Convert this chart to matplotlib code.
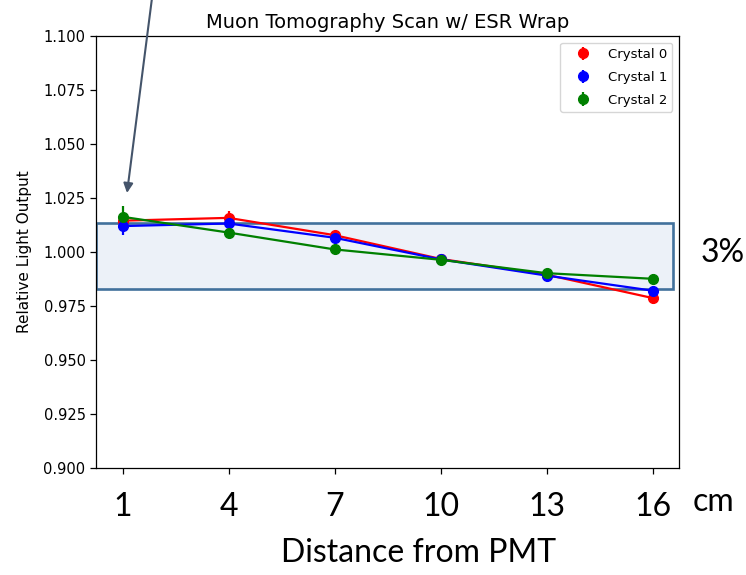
#!/usr/bin/env python3
"""Muon tomography scan, relative light output vs distance from PMT."""

import matplotlib
matplotlib.use("Agg")
import matplotlib.pyplot as plt
from matplotlib.patches import Rectangle

# ---------------------------------------------------------------------------
# Data
# ---------------------------------------------------------------------------
distance_cm = [1, 4, 7, 10, 13, 16]

crystal0 = [1.0145, 1.0158, 1.0078, 0.9968, 0.9895, 0.9787]
crystal0_err = [0.002, 0.003, 0.002, 0.002, 0.002, 0.003]

crystal1 = [1.0120, 1.0132, 1.0066, 0.9966, 0.9891, 0.9821]
crystal1_err = [0.004, 0.002, 0.002, 0.002, 0.002, 0.002]

crystal2 = [1.0163, 1.0090, 1.0012, 0.9964, 0.9902, 0.9876]
crystal2_err = [0.005, 0.002, 0.002, 0.002, 0.002, 0.002]

series_labels = ["Crystal 0", "Crystal 1", "Crystal 2"]
series_colors = ["red", "blue", "green"]

y_ticks = [0.900, 0.925, 0.950, 0.975, 1.000, 1.025, 1.050, 1.075, 1.100]

# +/- 1.5% band drawn over the plot
band_lo = 0.9830
band_hi = 1.0133

# ---------------------------------------------------------------------------
# Styling
# ---------------------------------------------------------------------------
BIG_FONT = ["Lato", "DejaVu Sans"]
BIG_SIZE = 23
BAND_EDGE = "#41719c"
BAND_FILL = "#dde7f3"
ARROW_COLOR = "#44546a"

fig = plt.figure(figsize=(7.46, 5.75), dpi=100)
ax = fig.add_axes([96 / 746, 1 - 468 / 575, 583 / 746, 432 / 575])

series = [
    (crystal0, crystal0_err),
    (crystal1, crystal1_err),
    (crystal2, crystal2_err),
]
for (vals, errs), lbl, col in zip(series, series_labels, series_colors):
    ax.plot(distance_cm, vals, "-", color=col, linewidth=1.6, zorder=3)
    ax.errorbar(
        distance_cm, vals, yerr=errs,
        fmt="o", color=col, markersize=7, elinewidth=1.6,
        label=lbl, zorder=3,
    )

# Shaded band (axes-fraction x, data y)
band = Rectangle(
    (0.0, band_lo), 0.99, band_hi - band_lo,
    transform=ax.get_yaxis_transform(),
    facecolor=BAND_FILL, alpha=0.55, edgecolor="none", zorder=1,
)
ax.add_patch(band)
band_edge = Rectangle(
    (0.0, band_lo), 0.99, band_hi - band_lo,
    transform=ax.get_yaxis_transform(),
    facecolor="none", edgecolor=BAND_EDGE, linewidth=1.9, zorder=2.5,
)
ax.add_patch(band_edge)

ax.set_ylim(0.9, 1.1)
ax.set_xlim(0.25, 16.75)
ax.set_yticks(y_ticks)
ax.set_yticklabels([f"{v:.3f}" for v in y_ticks])
ax.set_xticks(distance_cm)
ax.set_xticklabels([str(d) for d in distance_cm], fontsize=BIG_SIZE, family=BIG_FONT)
ax.tick_params(axis="y", labelsize=10.5, length=4, width=0.9)
ax.tick_params(axis="x", length=4, width=0.9, pad=13)
for sp in ax.spines.values():
    sp.set_linewidth(0.9)

ax.set_ylabel("Relative Light Output", fontsize=11, labelpad=8)
ax.set_title("Muon Tomography Scan w/ ESR Wrap", fontsize=14, pad=6)

ax.legend(loc="upper right", fontsize=9.5, labelspacing=0.75,
          handlelength=2.7, handletextpad=0.5, borderaxespad=0.5)

# Overlay annotations
fig.text(714 / 746, 1 - 502 / 575, "cm", fontsize=BIG_SIZE, family=BIG_FONT,
         ha="center", va="center")
fig.text(723 / 746, 1 - 253 / 575, "3%", fontsize=BIG_SIZE, family=BIG_FONT,
         ha="center", va="center")
fig.text(419 / 746, 1 - 553 / 575, "Distance from PMT", fontsize=BIG_SIZE,
         family=BIG_FONT, ha="center", va="center")

ax.annotate(
    "", xy=(127, 575 - 193), xycoords="figure pixels",
    xytext=(152, 575 + 2), textcoords="figure pixels",
    arrowprops=dict(arrowstyle="-|>", color=ARROW_COLOR, lw=1.5,
                    mutation_scale=14, shrinkA=0, shrinkB=0),
    annotation_clip=False,
)

fig.savefig("out.png", dpi=100)
